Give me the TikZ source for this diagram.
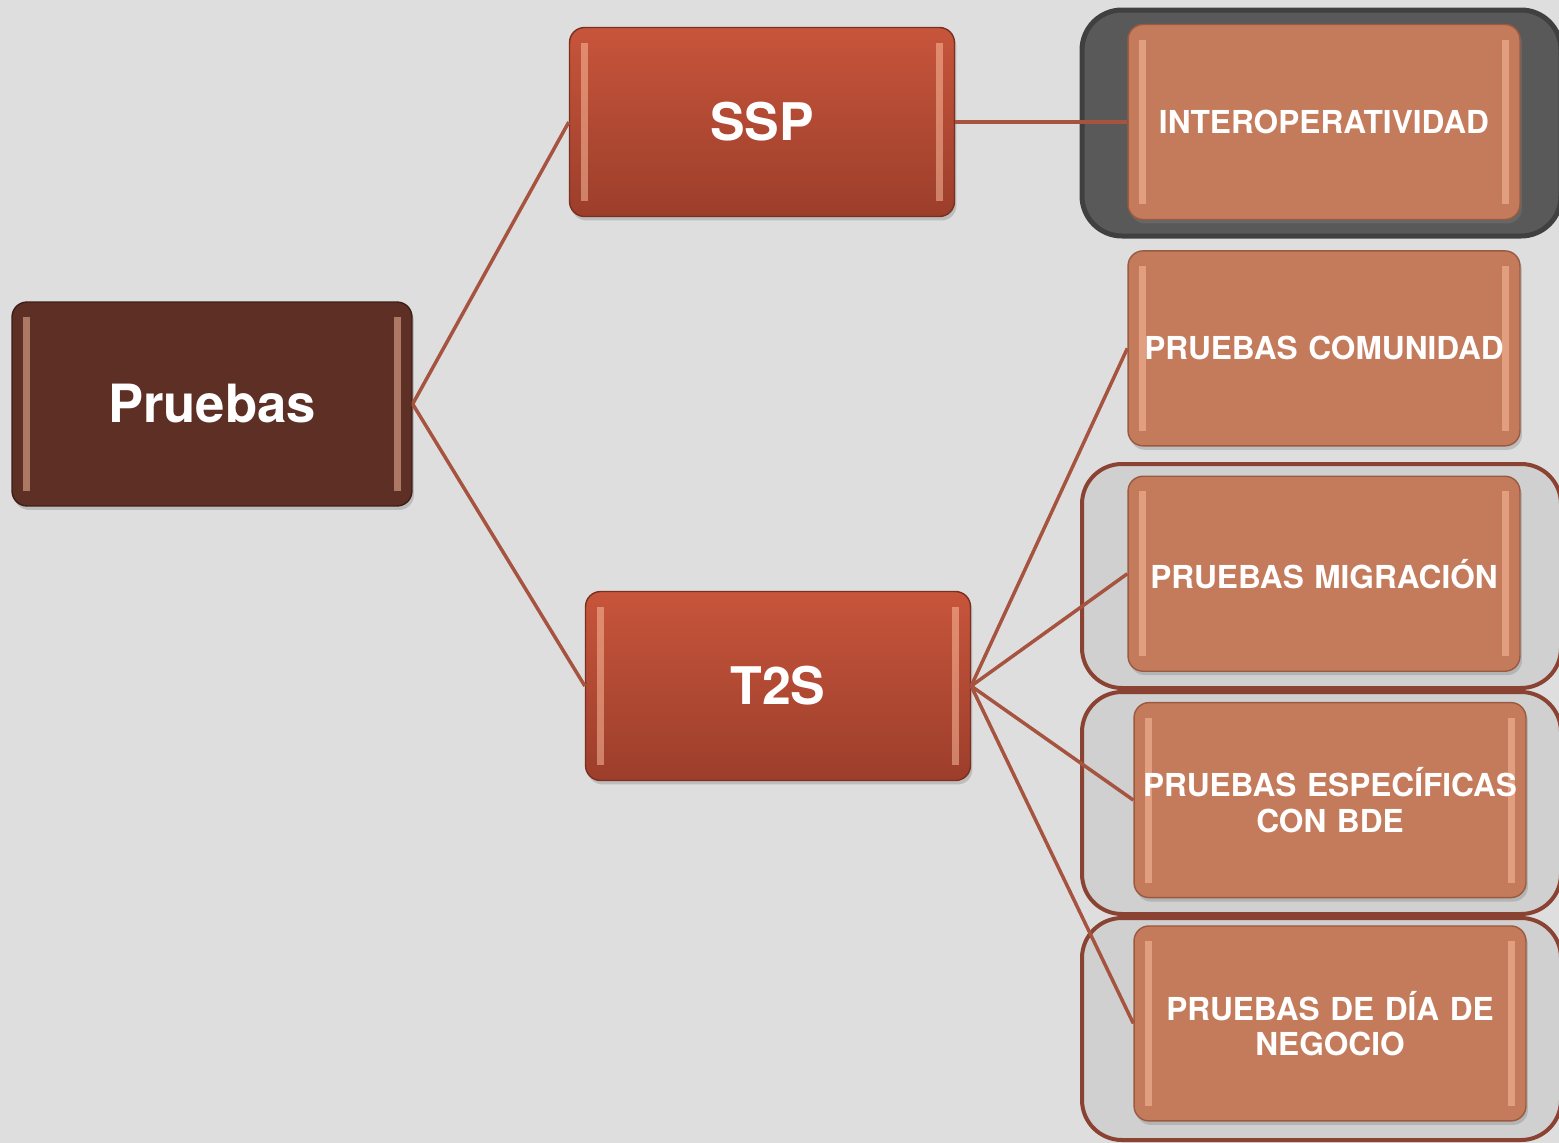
\documentclass[tikz,border=0pt]{standalone}
\usepackage{fontspec}
\setmainfont{TeX Gyre Heros}
\usetikzlibrary{positioning, shadows}
\definecolor{bg_grey}{HTML}{DEDEDE}
\definecolor{root_fill}{HTML}{5E2F25}
\definecolor{root_edge}{HTML}{3E1E18}
\definecolor{mid_top}{HTML}{C7553B}
\definecolor{mid_bottom}{HTML}{9C3E2B}
\definecolor{mid_edge}{HTML}{7A3020}
\definecolor{leaf_fill}{HTML}{C47B5C}
\definecolor{leaf_edge}{HTML}{9A5A40}
\definecolor{shine}{HTML}{FFC4A4}
\definecolor{link_red}{HTML}{A65440}
\definecolor{frame_dark}{HTML}{595959}
\definecolor{frame_dark_edge}{HTML}{404040}
\definecolor{frame_light}{HTML}{D0D0D0}
\definecolor{frame_edge}{HTML}{8A4232}
\tikzset{
    box_base/.style={rectangle, rounded corners=0.3cm, text centered, align=center, text=white, line width=0.8pt,
        drop shadow={shadow xshift=0.04cm, shadow yshift=-0.08cm, opacity=0.35},
        path picture={
            \fill[shine, opacity=0.5, sharp corners] ([xshift=0.22cm, yshift=-0.3cm]path picture bounding box.north west) rectangle ([xshift=0.36cm, yshift=0.3cm]path picture bounding box.south west);
            \fill[shine, opacity=0.5, sharp corners] ([xshift=-0.36cm, yshift=-0.3cm]path picture bounding box.north east) rectangle ([xshift=-0.22cm, yshift=0.3cm]path picture bounding box.south east);
        }},
    root_node/.style={box_base, fill=root_fill, draw=root_edge, minimum width=8cm, minimum height=4.08cm, font=\fontsize{30}{34}\selectfont\bfseries},
    mid_node/.style={box_base, top color=mid_top, bottom color=mid_bottom, draw=mid_edge, minimum width=7.7cm, minimum height=3.78cm, font=\fontsize{29.5}{34}\selectfont\bfseries},
    leaf_node/.style={box_base, fill=leaf_fill, draw=leaf_edge, minimum width=7.84cm, minimum height=3.9cm, inner sep=0.05cm, text width=7.7cm, font=\fontsize{18}{20}\selectfont\bfseries},
    dark_frame/.style={fill=frame_dark, draw=frame_dark_edge, line width=0.1cm, rounded corners=0.8cm},
    light_frame/.style={fill=frame_light, draw=frame_edge, line width=0.08cm, rounded corners=0.8cm},
    link/.style={draw=link_red, line width=0.07cm},
}
\begin{document}
\begin{tikzpicture}[x=0.02cm, y=-0.02cm, node distance=0.6cm]
    \useasboundingbox (0,0) rectangle (1559,1143);
    \fill[bg_grey] (0,0) rectangle (1559,1143);
    \clip (0,0) rectangle (1559,1143);
    %%%%%%%%%%
    % FRAMES %
    %%%%%%%%%%
    \draw[dark_frame] (1082,10) rectangle (1561,236);
    \draw[light_frame] (1082,464) rectangle (1561,688);
    \draw[light_frame] (1082,692) rectangle (1561,914);
    \draw[light_frame] (1082,918) rectangle (1561,1140);
    %%%%%%%%%
    % BOXES %
    %%%%%%%%%
    \node (pruebas) [root_node] at (212,404)
        {Pruebas};
    \node (ssp) [mid_node] at (762,122)
        {SSP};
    \node (t2s) [mid_node] at (778,686)
        {T2S};
    \node (interop) [leaf_node] at (1324,122)
        {INTEROPERATIVIDAD};
    \node (comunidad) [leaf_node, below = of interop]
        {PRUEBAS COMUNIDAD};
    \node (migracion) [leaf_node, below = 0.58cm of comunidad]
        {PRUEBAS MIGRACIÓN};
    \node (especificas) [leaf_node, below = 0.6cm of migracion, xshift=0.12cm]
        {PRUEBAS ESPECÍFICAS\\CON BDE};
    \node (negocio) [leaf_node, below = 0.54cm of especificas]
        {PRUEBAS DE DÍA DE\\NEGOCIO};
    %%%%%%%%%
    % LINKS %
    %%%%%%%%%
    \draw[link] (pruebas.east) -- (ssp.west);
    \draw[link] (pruebas.east) -- (t2s.west);
    \draw[link] (ssp.east) -- (interop.west);
    \draw[link] (t2s.east) -- (comunidad.west);
    \draw[link] (t2s.east) -- (migracion.west);
    \draw[link] (t2s.east) -- (especificas.west);
    \draw[link] (t2s.east) -- (negocio.west);
\end{tikzpicture}
\end{document}
